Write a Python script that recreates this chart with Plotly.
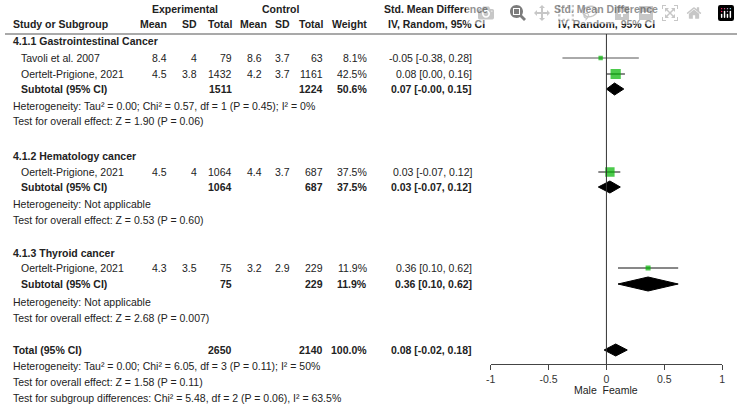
import plotly.graph_objects as go

W, H = 740, 409
FONT = "Liberation Sans"

# study rows
study_names = ["Tavoli et al. 2007", "Oertelt-Prigione, 2021", "Oertelt-Prigione, 2021", "Oertelt-Prigione, 2021"]
exp_mean = ["8.4", "4.5", "4.5", "4.3"]
exp_sd = ["4", "3.8", "4", "3.5"]
exp_n = ["79", "1432", "1064", "75"]
ctl_mean = ["8.6", "4.2", "4.4", "3.2"]
ctl_sd = ["3.7", "3.7", "3.7", "2.9"]
ctl_n = ["63", "1161", "687", "229"]
weights = [8.1, 42.5, 37.5, 11.9]
smd = [-0.05, 0.08, 0.03, 0.36]
lo = [-0.38, 0.00, -0.07, 0.10]
hi = [0.28, 0.16, 0.12, 0.62]
study_rowy = [58, 74, 172, 268]

# subtotal / total rows
sub_names = ["Subtotal (95% CI)", "Subtotal (95% CI)", "Subtotal (95% CI)", "Total (95% CI)"]
sub_exp_n = ["1511", "1064", "75", "2650"]
sub_ctl_n = ["1224", "687", "229", "2140"]
sub_w = ["50.6%", "37.5%", "11.9%", "100.0%"]
sub_ci_text = ["0.07 [-0.00, 0.15]", "0.03 [-0.07, 0.12]", "0.36 [0.10, 0.62]", "0.08 [-0.02, 0.18]"]
sub_smd = [0.07, 0.03, 0.36, 0.08]
sub_lo = [-0.00, -0.07, 0.10, -0.02]
sub_hi = [0.15, 0.12, 0.62, 0.18]
sub_rowy = [89, 187, 284, 350]

groups = ["4.1.1 Gastrointestinal Cancer", "4.1.2 Hematology cancer", "4.1.3 Thyroid cancer"]
group_rowy = [41, 156, 253]

notes = [
    ("Heterogeneity: Tau² = 0.00; Chi² = 0.57, df = 1 (P = 0.45); I² = 0%", 106),
    ("Test for overall effect: Z = 1.90 (P = 0.06)", 121),
    ("Heterogeneity: Not applicable", 204),
    ("Test for overall effect: Z = 0.53 (P = 0.60)", 220),
    ("Heterogeneity: Not applicable", 302),
    ("Test for overall effect: Z = 2.68 (P = 0.007)", 318),
    ("Heterogeneity: Tau² = 0.00; Chi² = 6.05, df = 3 (P = 0.11); I² = 50%", 366),
    ("Test for overall effect: Z = 1.58 (P = 0.11)", 382),
    ("Test for subgroup differences: Chi² = 5.48, df = 2 (P = 0.06), I² = 63.5%", 398),
]

x_ticks = [-1, -0.5, 0, 0.5, 1]

fig = go.Figure()
ann = []


def txt(s, x, y, anchor="left", bold=False, size=10.5):
    ann.append(dict(text=f"<b>{s}</b>" if bold else s, x=x / W, y=1 - y / H,
                    xref="paper", yref="paper", xanchor=anchor, yanchor="middle",
                    showarrow=False, font=dict(family=FONT, size=size, color="#222")))


# headers
txt("Experimental", 182, 9, "center", True)
txt("Control", 279, 9, "center", True)
txt("Std. Mean Difference", 436, 9, "center", True)
txt("Std. Mean Difference", 608, 9, "center", True)
txt("Study or Subgroup", 6, 24, bold=True)
for s, x in [("Mean", 166), ("SD", 196), ("Total", 231), ("Mean", 267), ("SD", 290), ("Total", 324), ("Weight", 368)]:
    txt(s, x, 24, "right", True)
txt("IV, Random, 95% CI", 436, 24, "center", True)
txt("IV, Random, 95% CI", 608, 24, "center", True)

for g, y in zip(groups, group_rowy):
    txt(g, 6, y, bold=True)

for i in range(len(study_names)):
    y = study_rowy[i]
    txt(study_names[i], 14, y)
    for s, x in [(exp_mean[i], 166), (exp_sd[i], 196), (exp_n[i], 231), (ctl_mean[i], 262),
                 (ctl_sd[i], 290), (ctl_n[i], 324), (f"{weights[i]}%", 368)]:
        txt(s, x, y, "right")
    txt(f"{smd[i]:.2f} [{lo[i]:.2f}, {hi[i]:.2f}]", 474, y, "right")

for i in range(len(sub_names)):
    y = sub_rowy[i]
    txt(sub_names[i], 6 if i == 3 else 14, y, bold=True)
    for s, x in [(sub_exp_n[i], 231), (sub_ctl_n[i], 324), (sub_w[i], 368)]:
        txt(s, x, y, "right", True)
    txt(sub_ci_text[i], 474, y, "right", True)

for s, y in notes:
    txt(s, 6, y)

txt("Male  Feamle", 608, 390, "center", size=10.5)

# forest marks
for i in range(len(smd)):
    fig.add_trace(go.Scatter(x=[lo[i], hi[i]], y=[study_rowy[i]] * 2, mode="lines",
                             line=dict(color="#555" if i == 0 else "#111", width=1), showlegend=False))
fig.add_trace(go.Scatter(x=smd, y=study_rowy, mode="markers", showlegend=False,
                         marker=dict(symbol="square", color="#00b400",
                                     size=[3 + w * 0.17 for w in weights], line=dict(width=0))))
for i in range(len(sub_smd)):
    h = 7 if i == 2 else 6
    y = sub_rowy[i]
    fig.add_trace(go.Scatter(x=[sub_lo[i], sub_smd[i], sub_hi[i], sub_smd[i], sub_lo[i]],
                             y=[y, y - h, y, y + h, y], mode="lines", fill="toself",
                             fillcolor="black", line=dict(color="black", width=1), showlegend=False))

fig.add_shape(type="line", xref="paper", yref="paper", x0=0, x1=1, y0=1 - 34 / H, y1=1 - 34 / H,
              line=dict(color="#555", width=1.2))
fig.add_shape(type="line", xref="x", yref="y", x0=0, x1=0, y0=34, y1=364, line=dict(color="#333", width=1))

fig.update_layout(
    width=W, height=H, margin=dict(l=0, r=0, t=0, b=0),
    plot_bgcolor="white", paper_bgcolor="white", annotations=ann,
    xaxis=dict(domain=[491 / W, 725 / W], range=[-1, 1], tickvals=x_ticks,
               ticktext=[f"{v:g}" for v in x_ticks], showgrid=False, zeroline=False,
               showline=True, linecolor="#444", ticks="outside", ticklen=5, tickcolor="#444",
               tickfont=dict(family=FONT, size=10.5, color="#333")),
    yaxis=dict(domain=[1 - 364 / H, 1 - 34 / H], range=[364, 34], visible=False),
)

fig.write_html("out.html", post_script="document.body.style.margin='0';")
